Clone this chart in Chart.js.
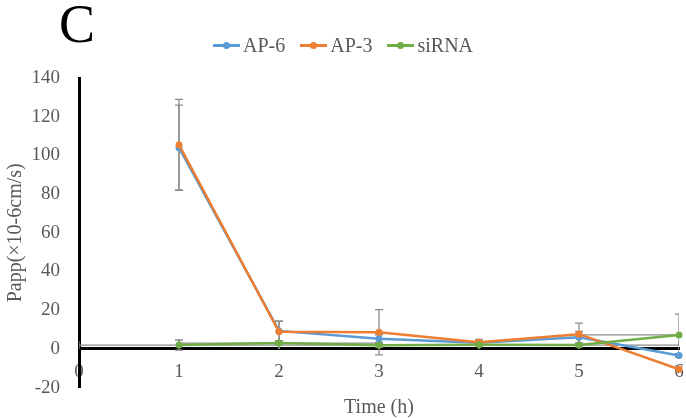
<!DOCTYPE html>
<html>
<head>
<meta charset="utf-8">
<script src="https://cdn.jsdelivr.net/npm/chart.js@4.4.0/dist/chart.umd.min.js"></script>
<style>
  html, body { margin: 0; padding: 0; background: #fff; }
  #wrap { position: relative; width: 686px; height: 418px; font-family: 'Liberation Serif', 'Times New Roman', serif; }
  #panel { position: absolute; left: 59px; top: -6px; font-size: 54px; color: #000; line-height: 60px; }
  #legend { position: absolute; left: 213px; top: 34px; display: flex; font-size: 20px; color: #595959; line-height: 22px; }
  .item { display: flex; align-items: center; margin-right: 15px; }
  .mark { position: relative; width: 27px; height: 22px; margin-right: 3px; }
  .mark .ln { position: absolute; left: 0; right: 0; top: 10px; height: 2.5px; }
  .mark .dot { position: absolute; left: 10px; top: 8px; width: 7px; height: 7px; border-radius: 50%; }
  #chartBox { position: absolute; left: 0; top: 0; width: 686px; height: 418px; }
</style>
</head>
<body>
<div id="wrap">
  <div id="chartBox"><canvas id="chart"></canvas></div>
  <div id="panel">C</div>
  <div id="legend"></div>
</div>
<script>
// time points (h)
const times = [1, 2, 3, 4, 5, 6];

const seriesNames = ['AP-6', 'AP-3', 'siRNA'];
const seriesColors = ['#5B9BD5', '#ED7D31', '#70AD47'];

const ap6 = [104, 9.3, 5.3, 3.2, 6, -3.4];
const ap3 = [105.5, 8.8, 8.6, 3.4, 7.6, -10.5];
const sirna = [2, 3, 1.9, 2.1, 2, 7.2];

// error bars (+/-)
const ap6Err = [22, 5, 2, 1.5, 3, 1];
const ap3Err = [23.5, 5.5, 11.7, 1.5, 5.7, 1.7];
const sirnaErr = [2.6, 1, 1, 0.5, 1, 10.8];
const sirnaXErr = [1, 1, 1, 1, 1, 1];

const xMin = 0, xMax = 6, xStep = 1;
const yMin = -20, yMax = 140, yStep = 20;

const toPts = vals => times.map((t, i) => ({ x: t, y: vals[i] }));

// legend
const legend = document.getElementById('legend');
seriesNames.forEach((name, i) => {
  const item = document.createElement('div');
  item.className = 'item';
  item.innerHTML = '<span class="mark"><span class="ln" style="background:' + seriesColors[i] +
    '"></span><span class="dot" style="background:' + seriesColors[i] + '"></span></span><span>' + name + '</span>';
  legend.appendChild(item);
});

const errorBars = {
  id: 'errorBars',
  beforeDatasetsDraw(chart) {
    const { ctx, chartArea: a, scales: { x, y } } = chart;
    ctx.save();
    ctx.beginPath();
    ctx.rect(a.left, a.top - 2, a.right - a.left, a.bottom - a.top + 4);
    ctx.clip();
    ctx.strokeStyle = '#8c8c8c';
    ctx.lineWidth = 1.3;
    chart.data.datasets.forEach(ds => {
      ds.data.forEach((p, i) => {
        const px = x.getPixelForValue(p.x);
        const py = y.getPixelForValue(p.y);
        if (ds.yErr) {
          const t = y.getPixelForValue(p.y + ds.yErr[i]);
          const b = y.getPixelForValue(p.y - ds.yErr[i]);
          ctx.beginPath();
          ctx.moveTo(px, t); ctx.lineTo(px, b);
          ctx.moveTo(px - 4, t); ctx.lineTo(px + 4, t);
          ctx.moveTo(px - 4, b); ctx.lineTo(px + 4, b);
          ctx.stroke();
        }
        if (ds.xErr) {
          const l = x.getPixelForValue(p.x - ds.xErr[i]);
          const r = x.getPixelForValue(p.x + ds.xErr[i]);
          ctx.beginPath();
          ctx.moveTo(l, py); ctx.lineTo(r, py);
          ctx.moveTo(l, py - 4); ctx.lineTo(l, py + 4);
          ctx.moveTo(r, py - 4); ctx.lineTo(r, py + 4);
          ctx.stroke();
        }
      });
    });
    ctx.restore();
  }
};

const mkSet = (i, vals, yErr, xErr, order) => ({
  label: seriesNames[i],
  data: toPts(vals),
  yErr: yErr,
  xErr: xErr,
  borderColor: seriesColors[i],
  backgroundColor: seriesColors[i],
  borderWidth: 2.5,
  pointRadius: 3.5,
  pointBorderWidth: 0,
  tension: 0,
  clip: 8,
  order: order
});

const serif = "'Liberation Serif', 'Times New Roman', serif";
const grey = '#595959';

new Chart(document.getElementById('chart'), {
  type: 'line',
  data: {
    datasets: [
      mkSet(0, ap6, ap6Err, null, 3),
      mkSet(1, ap3, ap3Err, null, 2),
      mkSet(2, sirna, sirnaErr, sirnaXErr, 1)
    ]
  },
  options: {
    responsive: true,
    maintainAspectRatio: false,
    animation: false,
    layout: { padding: { top: 78, right: 7, bottom: 29, left: 0 } },
    plugins: { legend: { display: false }, tooltip: { enabled: false } },
    scales: {
      x: {
        type: 'linear',
        position: { y: 0 },
        min: xMin, max: xMax,
        grid: { display: false, drawTicks: false },
        border: { color: '#000', width: 3 },
        ticks: { stepSize: xStep, padding: 12, color: grey, font: { family: serif, size: 19 } },
        title: { display: true, text: 'Time (h)', color: grey, padding: { top: 0, bottom: 0 }, font: { family: serif, size: 20 } },
        afterFit: s => { s.paddingLeft = 0; s.paddingRight = 0; }
      },
      y: {
        min: yMin, max: yMax,
        grid: { display: false, drawTicks: false },
        border: { color: '#000', width: 3 },
        ticks: { stepSize: yStep, padding: 19, color: grey, font: { family: serif, size: 19 } },
        title: { display: true, text: 'Papp(×10-6cm/s)', color: grey, padding: { top: 4, bottom: 0 }, font: { family: serif, size: 20 } },
        afterFit: s => { s.width = 79; }
      }
    }
  },
  plugins: [errorBars]
});
</script>
</body>
</html>
